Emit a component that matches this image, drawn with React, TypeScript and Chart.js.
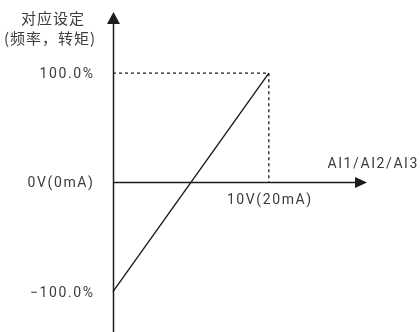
import React, { useEffect, useRef } from "react";
import { Chart, registerables } from "chart.js";

Chart.register(...registerables);

// ---- data ----
const lineX = [0, 10];
const lineY = [-100, 100];
const guideX = [0, 10, 10];
const guideY = [100, 100, 0];
const yTickValues = [100, 0, -100];
const yTickLabels = ["100.0%", "0V(0mA)", "\u2212100.0%"];
const xTickValues = [10];
const xTickLabels = ["10V(20mA)"];
const xAxisTitle = "AI1/AI2/AI3";
const yAxisTitle = ["对应设定", "(频率，转矩)"];

const X_MIN = 0;
const X_MAX = 16.3;
const Y_MIN = -137;
const Y_MAX = 156;

const INK = "#1c1c1c";
const TEXT = "#3c3c3c";
const LATIN = "Roboto, 'Liberation Sans', sans-serif";
const CJK = "'Noto Sans CJK SC', sans-serif";

const axesPlugin = {
  id: "arrowAxes",
  afterDatasetsDraw(chart: any) {
    const ctx = chart.ctx;
    const xs = chart.scales.x;
    const ys = chart.scales.y;
    const area = chart.chartArea;
    const x0 = Math.round(xs.getPixelForValue(0)) + 0.5;
    const y0 = Math.round(ys.getPixelForValue(0)) + 0.5;
    ctx.save();
    ctx.strokeStyle = INK;
    ctx.fillStyle = INK;
    ctx.lineWidth = 1.5;
    // y axis
    ctx.beginPath();
    ctx.moveTo(x0, area.bottom);
    ctx.lineTo(x0, area.top + 10);
    ctx.stroke();
    ctx.beginPath();
    ctx.moveTo(x0, area.top);
    ctx.lineTo(x0 - 6.5, area.top + 12);
    ctx.lineTo(x0 + 6.5, area.top + 12);
    ctx.closePath();
    ctx.fill();
    // x axis
    ctx.beginPath();
    ctx.moveTo(x0, y0);
    ctx.lineTo(area.right - 10, y0);
    ctx.stroke();
    ctx.beginPath();
    ctx.moveTo(area.right, y0);
    ctx.lineTo(area.right - 12, y0 - 5.5);
    ctx.lineTo(area.right - 12, y0 + 5.5);
    ctx.closePath();
    ctx.fill();

    // labels
    ctx.fillStyle = TEXT;
    ctx.textBaseline = "middle";
    (ctx as any).letterSpacing = "1.6px";
    ctx.font = `14px ${LATIN}`;
    ctx.textAlign = "right";
    yTickValues.forEach((v, i) => {
      ctx.fillText(yTickLabels[i], x0 - 19, ys.getPixelForValue(v) + 1.5);
    });
    ctx.textAlign = "center";
    (ctx as any).letterSpacing = "1.6px";
    xTickValues.forEach((v, i) => {
      ctx.fillText(xTickLabels[i], xs.getPixelForValue(v) + 1, y0 + 18);
    });
    ctx.textAlign = "right";
    ctx.fillText(xAxisTitle, 419, y0 - 18);
    ctx.font = `15px ${CJK}`;
    ctx.textAlign = "center";
    (ctx as any).letterSpacing = "1px";
    ctx.fillText(yAxisTitle[0], 53, 18);
    ctx.fillText(yAxisTitle[1], 50, 38);
    ctx.restore();
  },
};

export default function App() {
  const ref = useRef<HTMLCanvasElement | null>(null);
  useEffect(() => {
    if (!ref.current) return;
    const chart = new Chart(ref.current, {
      type: "scatter",
      data: {
        datasets: [
          {
            data: lineX.map((x, i) => ({ x, y: lineY[i] })),
            showLine: true,
            borderColor: INK,
            borderWidth: 1.4,
            pointRadius: 0,
            clip: false as any,
          },
          {
            data: guideX.map((x, i) => ({ x, y: guideY[i] })),
            showLine: true,
            borderColor: INK,
            borderWidth: 1.3,
            borderDash: [3, 3],
            pointRadius: 0,
            clip: false as any,
          },
        ],
      },
      options: {
        animation: false,
        responsive: false,
        maintainAspectRatio: false,
        layout: { padding: { left: 113, right: 53, top: 12, bottom: 0 } },
        plugins: { legend: { display: false }, tooltip: { enabled: false } },
        scales: {
          x: { type: "linear", min: X_MIN, max: X_MAX, display: false },
          y: { type: "linear", min: Y_MIN, max: Y_MAX, display: false },
        },
      },
      plugins: [axesPlugin],
    });
    return () => chart.destroy();
  }, []);
  return (
    <div style={{ position: "fixed", left: 0, top: 0, width: 420, height: 332, background: "#fff" }}>
      <canvas ref={ref} width={420} height={332} style={{ display: "block", width: 420, height: 332 }} />
    </div>
  );
}
